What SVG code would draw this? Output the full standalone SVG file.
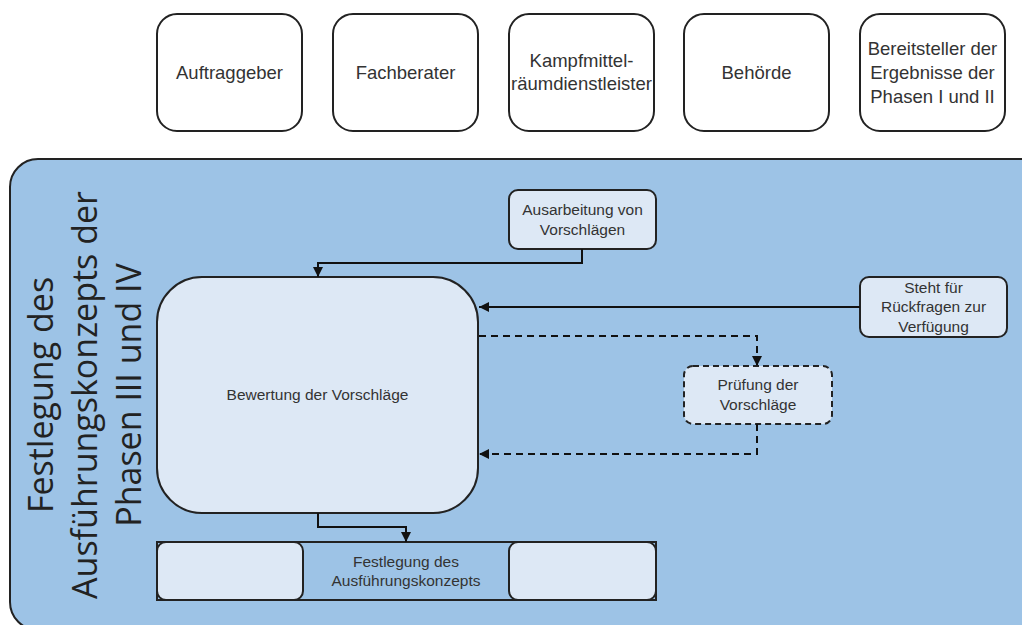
<svg xmlns="http://www.w3.org/2000/svg" width="1022" height="625" viewBox="0 0 1022 625">
<defs>
<style>
.top{fill:#ffffff;stroke:#222;stroke-width:2}
.inner{fill:#dde8f5;stroke:#222;stroke-width:2}
.dash{fill:#dde8f5;stroke:#222;stroke-width:2;stroke-dasharray:6,4}
.t{font-family:"Liberation Sans",Arial,sans-serif;fill:#333;text-anchor:middle}
.t16{font-size:18.5px}
.t14{font-size:15.5px}
.title{font-family:"Open Sans","Liberation Sans",sans-serif;font-size:34px;fill:#222;text-anchor:middle}
.line{fill:none;stroke:#111;stroke-width:2}
.dline{fill:none;stroke:#111;stroke-width:2;stroke-dasharray:7,5}
</style>
<marker id="ah" viewBox="0 0 10 10" refX="10" refY="5" markerWidth="10" markerHeight="10" markerUnits="userSpaceOnUse" orient="auto">
<path d="M0,0 L10,5 L0,10 z" fill="#111"/>
</marker>
</defs>
<rect width="1022" height="625" fill="#ffffff"/>

<g id="container">
<rect x="10" y="159" width="1060" height="471" rx="28" fill="#9dc3e6" stroke="#222" stroke-width="2"/>
<g transform="translate(0,395) rotate(-90)">
<text class="title" x="0" y="53">Festlegung des</text>
<text class="title" x="0" y="97">Ausführungskonzepts der</text>
<text class="title" x="0" y="141">Phasen III und IV</text>
</g>
</g>

<g id="auftraggeber">
<rect class="top" x="157" y="14" width="145" height="117" rx="20"/>
<text class="t t16" x="229.5" y="79">Auftraggeber</text>
</g>
<g id="fachberater">
<rect class="top" x="333" y="14" width="145" height="117" rx="20"/>
<text class="t t16" x="405.5" y="79">Fachberater</text>
</g>
<g id="kampfmittel">
<rect class="top" x="509" y="14" width="145" height="117" rx="20"/>
<text class="t t16" x="581.5" y="67">Kampfmittel-</text>
<text class="t t16" x="581.5" y="90">räumdienstleister</text>
</g>
<g id="behoerde">
<rect class="top" x="684" y="14" width="145" height="117" rx="20"/>
<text class="t t16" x="756.5" y="79">Behörde</text>
</g>
<g id="bereitsteller">
<rect class="top" x="860" y="14" width="145" height="117" rx="20"/>
<text class="t t16" x="932.5" y="55">Bereitsteller der</text>
<text class="t t16" x="932.5" y="79">Ergebnisse der</text>
<text class="t t16" x="932.5" y="103">Phasen I und II</text>
</g>

<g id="ausarbeitung">
<rect class="inner" x="509" y="190" width="147" height="59" rx="9"/>
<text class="t t14" x="582.5" y="215">Ausarbeitung von</text>
<text class="t t14" x="582.5" y="235">Vorschlägen</text>
</g>
<g id="bewertung">
<rect class="inner" x="157" y="277" width="321" height="236" rx="45"/>
<text class="t t14" x="317.5" y="400">Bewertung der Vorschläge</text>
</g>
<g id="steht">
<rect class="inner" x="860" y="277" width="147" height="60" rx="9"/>
<text class="t t14" x="933.5" y="293">Steht für</text>
<text class="t t14" x="933.5" y="312">Rückfragen zur</text>
<text class="t t14" x="933.5" y="332">Verfügung</text>
</g>
<g id="pruefung">
<rect class="dash" x="684" y="366" width="148" height="58" rx="9"/>
<text class="t t14" x="758" y="390">Prüfung der</text>
<text class="t t14" x="758" y="410">Vorschläge</text>
</g>
<g id="festlegung">
<rect x="157" y="542" width="499" height="58" fill="#9dc3e6" stroke="#222" stroke-width="2"/>
<rect class="inner" x="157" y="542" width="146" height="58" rx="9"/>
<rect class="inner" x="509" y="542" width="147" height="58" rx="9"/>
<text class="t t14" x="406" y="567">Festlegung des</text>
<text class="t t14" x="406" y="586">Ausführungskonzepts</text>
</g>

<g id="connectors">
<path class="line" d="M582,249 V263 H318 V277" marker-end="url(#ah)"/>
<path class="line" d="M860,307 H479" marker-end="url(#ah)"/>
<path class="dline" d="M479,336 H757 V366" marker-end="url(#ah)"/>
<path class="dline" d="M757,424 V454 H479" marker-end="url(#ah)"/>
<path class="line" d="M318,513 V527 H406 V542" marker-end="url(#ah)"/>
</g>
</svg>
